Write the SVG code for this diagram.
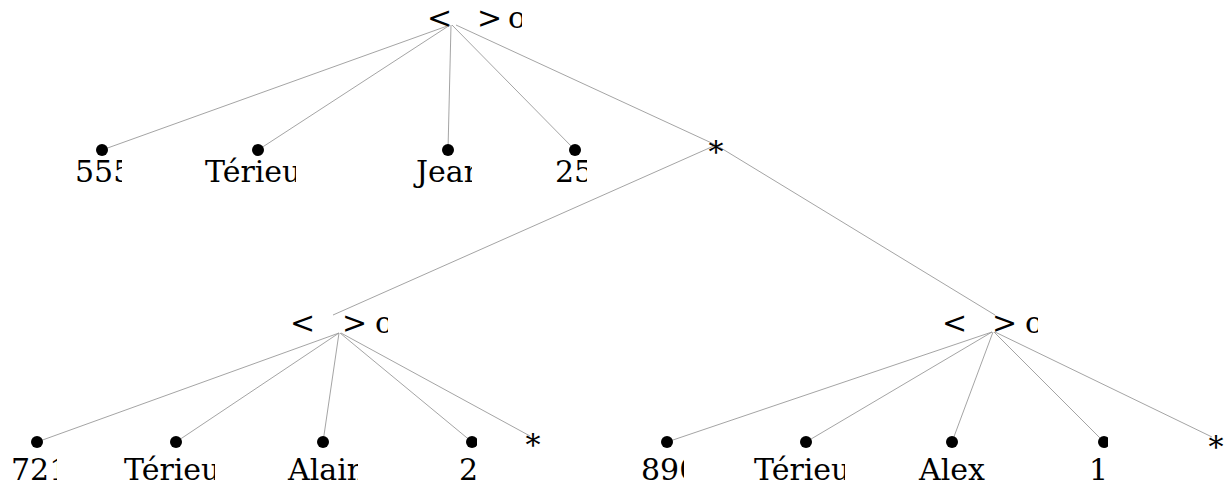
<svg xmlns="http://www.w3.org/2000/svg" width="1228" height="486" viewBox="0 0 1228 486">
<style>
.e{stroke:#9a9a9a;stroke-width:0.9;fill:none}
.t{font-family:"DejaVu Serif",serif;font-size:30px;fill:#000}
.d{fill:#000}
.s{font-family:"DejaVu Serif",serif;font-size:30px;fill:#000;text-anchor:middle}
</style>
<defs>
<clipPath id="c0"><rect x="400" y="0" width="122" height="40"/></clipPath>
<clipPath id="c1"><rect x="260" y="300" width="128" height="40"/></clipPath>
<clipPath id="c2"><rect x="910" y="300" width="128" height="40"/></clipPath>
<clipPath id="c555"><rect x="60" y="155" width="62" height="40"/></clipPath>
<clipPath id="cT1"><rect x="190" y="155" width="106" height="40"/></clipPath>
<clipPath id="cJ"><rect x="400" y="155" width="72" height="40"/></clipPath>
<clipPath id="c25"><rect x="540" y="155" width="47" height="40"/></clipPath>
<clipPath id="c721"><rect x="0" y="450" width="57" height="36"/></clipPath>
<clipPath id="cT2"><rect x="110" y="450" width="105" height="36"/></clipPath>
<clipPath id="cA"><rect x="270" y="450" width="88" height="36"/></clipPath>
<clipPath id="c2b"><rect x="440" y="430" width="37" height="56"/></clipPath>
<clipPath id="c890"><rect x="630" y="450" width="54" height="36"/></clipPath>
<clipPath id="cT3"><rect x="740" y="450" width="105" height="36"/></clipPath>
<clipPath id="c1b"><rect x="1070" y="430" width="38" height="56"/></clipPath>
</defs>
<g id="edges">
<line class="e" x1="450" y1="25" x2="102" y2="150"/>
<line class="e" x1="450" y1="25" x2="258" y2="150"/>
<line class="e" x1="451" y1="25" x2="448" y2="150"/>
<line class="e" x1="452" y1="25" x2="575" y2="150"/>
<line class="e" x1="456" y1="25" x2="716" y2="145"/>
<line class="e" x1="716" y1="145" x2="333" y2="315"/>
<line class="e" x1="716" y1="145" x2="995" y2="315"/>
<line class="e" x1="339" y1="333" x2="37" y2="442"/>
<line class="e" x1="339" y1="333" x2="176" y2="442"/>
<line class="e" x1="339" y1="333" x2="323" y2="442"/>
<line class="e" x1="340" y1="333" x2="472" y2="442"/>
<line class="e" x1="341" y1="333" x2="530" y2="436"/>
<line class="e" x1="992" y1="332" x2="667" y2="442"/>
<line class="e" x1="992" y1="332" x2="806" y2="442"/>
<line class="e" x1="993" y1="332" x2="952" y2="442"/>
<line class="e" x1="994" y1="332" x2="1104" y2="442"/>
<line class="e" x1="995" y1="332" x2="1212" y2="437"/>
</g>
<g id="root" clip-path="url(#c0)">
<text class="t" x="427" y="28">&lt;</text>
<text class="t" x="477" y="28">&gt;</text>
<text class="t" x="508" y="28">o</text>
</g>
<g id="n555"><circle class="d" cx="102" cy="150" r="6"/><text class="t" x="75" y="182" clip-path="url(#c555)">555</text></g>
<g id="nTerieu1"><circle class="d" cx="258" cy="150" r="6"/><text class="t" x="205" y="182" clip-path="url(#cT1)">Térieu</text></g>
<g id="nJean"><circle class="d" cx="448" cy="150" r="6"/><text class="t" x="416" y="182" clip-path="url(#cJ)">Jean</text></g>
<g id="n25"><circle class="d" cx="575" cy="150" r="6"/><text class="t" x="555" y="182" clip-path="url(#c25)">25</text></g>
<g id="star0"><text class="s" x="716" y="162">*</text></g>
<g id="left" clip-path="url(#c1)">
<text class="t" x="290" y="333">&lt;</text>
<text class="t" x="342" y="333">&gt;</text>
<text class="t" x="375" y="333">o</text>
</g>
<g id="right" clip-path="url(#c2)">
<text class="t" x="942" y="333">&lt;</text>
<text class="t" x="992" y="333">&gt;</text>
<text class="t" x="1025" y="333">o</text>
</g>
<g id="n721"><circle class="d" cx="37" cy="442" r="6"/><text class="t" x="11" y="480" clip-path="url(#c721)">721</text></g>
<g id="nTerieu2"><circle class="d" cx="176" cy="442" r="6"/><text class="t" x="124" y="480" clip-path="url(#cT2)">Térieu</text></g>
<g id="nAlain"><circle class="d" cx="323" cy="442" r="6"/><text class="t" x="288" y="480" clip-path="url(#cA)">Alain</text></g>
<g id="n2" clip-path="url(#c2b)"><circle class="d" cx="472" cy="442" r="6"/><text class="t" x="459" y="480">2</text></g>
<g id="star1"><text class="s" x="533" y="455">*</text></g>
<g id="n890"><circle class="d" cx="667" cy="442" r="6"/><text class="t" x="641" y="480" clip-path="url(#c890)">890</text></g>
<g id="nTerieu3"><circle class="d" cx="806" cy="442" r="6"/><text class="t" x="754" y="480" clip-path="url(#cT3)">Térieu</text></g>
<g id="nAlex"><circle class="d" cx="952" cy="442" r="6"/><text class="t" x="919" y="480">Alex</text></g>
<g id="n1" clip-path="url(#c1b)"><circle class="d" cx="1104" cy="442" r="6"/><text class="t" x="1089" y="480">1</text></g>
<g id="star2"><text class="s" x="1216" y="457">*</text></g>
</svg>
